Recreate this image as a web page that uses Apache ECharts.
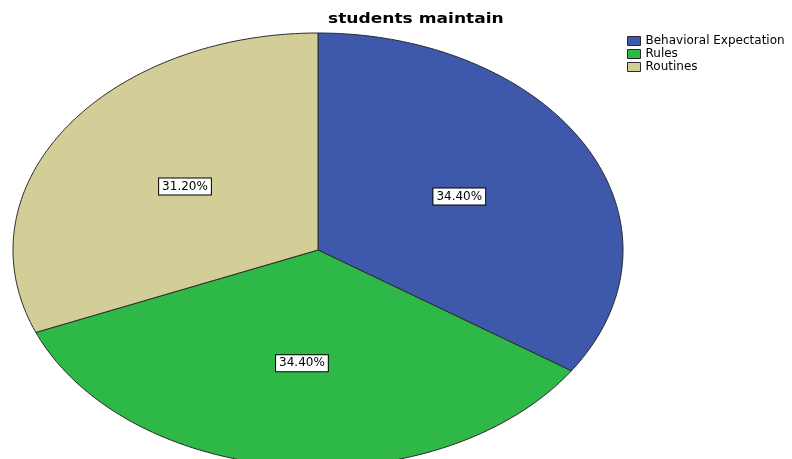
<!DOCTYPE html>
<html>
<head>
<meta charset="utf-8">
<script src="https://cdn.jsdelivr.net/npm/echarts@6/dist/echarts.min.js"></script>
<style>
  html, body { margin: 0; padding: 0; background: #fff; }
  #frame { width: 792px; height: 459px; overflow: hidden; }
  #chart { width: 792px; height: 480px; }
</style>
</head>
<body>
<div id="frame"><div id="chart"></div></div>
<script>
// Share of students per maintained item (percent)
const categories = ['Behavioral Expectation', 'Rules', 'Routines'];
const percents = [34.4, 34.4, 31.2];
const labelTexts = ['34.40%', '34.40%', '31.20%'];
const colors = ['#3E58AC', '#2EB848', '#D3CE97'];

const FONT = '"DejaVu Sans", "Liberation Sans", Arial, sans-serif';
const total = percents.reduce((a, b) => a + b, 0);
const startOf = i => percents.slice(0, i).reduce((a, b) => a + b, 0);

// Slices go clockwise from twelve o'clock; the unit circle in data space
// is stretched by the grid into an ellipse.
function angleAt(share) {
  return Math.PI / 2 - (share / total) * Math.PI * 2;
}

function renderSlice(params, api) {
  const i = params.seriesIndex;
  const a0 = angleAt(startOf(i));
  const a1 = angleAt(startOf(i) + percents[i]);
  const steps = 160;
  const pts = [api.coord([0, 0])];
  for (let k = 0; k <= steps; k++) {
    const a = a0 + (a1 - a0) * k / steps;
    pts.push(api.coord([Math.cos(a), Math.sin(a)]));
  }
  const mid = (a0 + a1) / 2;
  const lp = api.coord([0.525 * Math.cos(mid), 0.525 * Math.sin(mid)]);
  return {
    type: 'group',
    children: [
      {
        type: 'polygon',
        shape: { points: pts },
        style: { fill: colors[i], stroke: '#2a2a2a', lineWidth: 1 }
      },
      {
        type: 'text',
        x: lp[0],
        y: lp[1],
        z2: 10,
        style: {
          text: labelTexts[i],
          fill: '#000',
          font: '12px ' + FONT,
          lineHeight: 12,
          align: 'center',
          verticalAlign: 'middle',
          backgroundColor: '#fff',
          borderColor: '#000',
          borderWidth: 1,
          padding: [2, 3, 2, 3]
        }
      }
    ]
  };
}

const chart = echarts.init(document.getElementById('chart'), null, { renderer: 'canvas' });
chart.setOption({
  animation: false,
  backgroundColor: '#fff',
  graphic: [
    {
      // chart title, drawn a little wide
      type: 'text',
      left: 328,
      top: 12,
      scaleX: 1.22,
      originX: 0,
      style: {
        text: 'students maintain',
        font: 'bold 14px ' + FONT,
        fill: '#000'
      }
    }
  ],
  legend: {
    orient: 'vertical',
    left: 627,
    top: 35,
    padding: 0,
    itemWidth: 13,
    itemHeight: 9,
    itemGap: 1,
    icon: 'rect',
    data: categories,
    itemStyle: { borderColor: '#2a2a2a', borderWidth: 1 },
    textStyle: {
      fontFamily: FONT,
      fontSize: 12,
      lineHeight: 12,
      color: '#000'
    }
  },
  grid: { left: 13, top: 33, width: 610, height: 434 },
  xAxis: { type: 'value', min: -1, max: 1, show: false },
  yAxis: { type: 'value', min: -1, max: 1, show: false },
  series: categories.map((name, i) => ({
    name: name,
    type: 'custom',
    clip: false,
    itemStyle: { color: colors[i] },
    renderItem: renderSlice,
    data: [[0, percents[i]]]
  }))
});
</script>
</body>
</html>
